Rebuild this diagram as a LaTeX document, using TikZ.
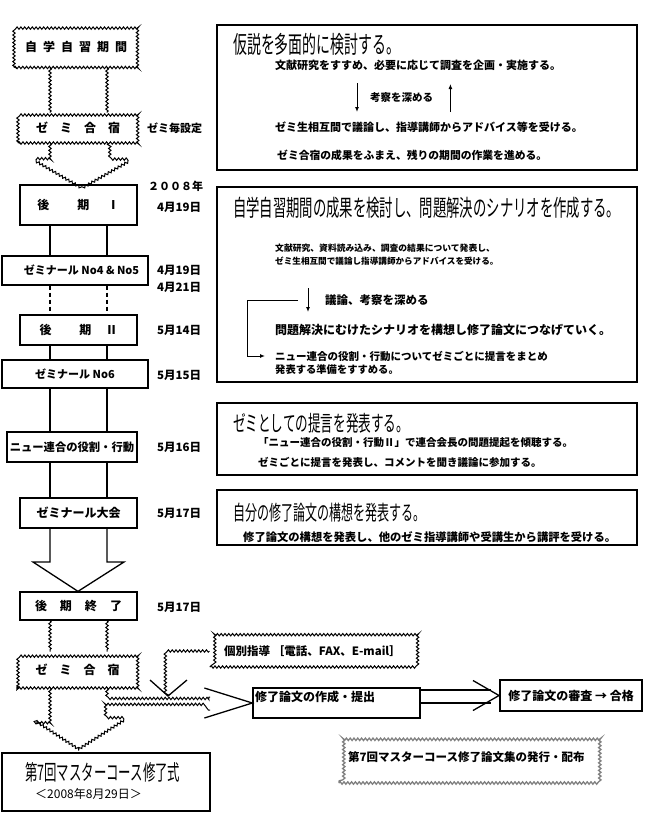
\documentclass[tikz,border=0pt]{standalone}
\usepackage{fontspec}
\setmainfont{Noto Sans CJK JP}
\newfontfamily\headfont{Noto Sans CJK JP}[FakeStretch=0.58]
\usetikzlibrary{positioning,arrows.meta,decorations.pathmorphing}
\newcommand{\kgap}[1][6pt]{\hspace{#1}}

\begin{document}
\begin{tikzpicture}[
    x=1pt, y=-1pt,
    stage/.style={draw, line width=1.3pt, inner sep=0pt, minimum width=117pt, minimum height=30pt,
        font={\bfseries\fontsize{12}{14}\selectfont}},
    wavy/.style={line width=1pt, decorate, decoration={snake, amplitude=1.2pt, segment length=3.8pt}},
    rail/.style={line width=1.3pt},
    panel/.style={draw, line width=1.5pt, minimum width=420pt, inner sep=0pt},
    headline/.style={inner sep=0pt, anchor=west, font={\headfont\fontsize{24}{26}\selectfont}},
    note/.style={inner sep=0pt, anchor=west, font={\bfseries\fontsize{11}{13}\selectfont}},
    date/.style={inner sep=0pt, anchor=west, font={\bfseries\fontsize{11.5}{13}\selectfont}},
    flow/.style={-{Latex[length=5pt,width=4pt]}, line width=1pt},
]
    \useasboundingbox (0,0) rectangle (650,820);

    % rails and arrow wings
    \coordinate (L) at (50,0);
    \coordinate (R) at (107,0);
    \coordinate (wA1) at (33,158);
    \coordinate (wA2) at (124,158);
    \coordinate (wB1) at (33,562);
    \coordinate (wB2) at (124,562);
    \coordinate (wC1) at (33,723);
    \coordinate (wC2) at (124,723);

    % left column
    \node[stage, wavy, minimum width=124pt, minimum height=41pt] (study) at (76,47) {自\kgap 学\kgap 自\kgap 習\kgap 期\kgap 間};
    \node[stage, wavy, minimum width=120pt] (camp) at (78,128) {ゼ\kgap[12pt]ミ\kgap[12pt]合\kgap[12pt]宿};
    \node[stage, minimum height=40pt] (termA) at (78.5,205) {後\kgap[28pt]期\kgap[18pt]Ⅰ};
    \node[stage, minimum width=146pt, minimum height=29pt, font={\bfseries\fontsize{11}{13}\selectfont}] (semA) at (75,270.5) {\kgap[13pt]ゼミナール No4 \& No5};
    \node[stage] (termB) at (78.5,330) {後\kgap[28pt]期\kgap[14pt]Ⅱ};
    \node[stage, minimum width=146pt, minimum height=28pt, font={\bfseries\fontsize{11}{13}\selectfont}] (semB) at (75,374) {ゼミナール No6\kgap[26pt]};
    \node[stage, minimum width=130pt, font={\bfseries\fontsize{11.3}{13}\selectfont}] (union) at (72,447) {ニュー連合の役割・行動};
    \node[stage] (conf) at (78.5,513) {ゼミナール大会};
    \node[stage, minimum height=28pt] (kend) at (78.5,606) {後\kgap[13pt]期\kgap[13pt]終\kgap[13pt]了};
    \node[stage, wavy, minimum width=119pt, minimum height=36pt] (camp2) at (77.5,670) {ゼ\kgap[12pt]ミ\kgap[12pt]合\kgap[12pt]宿};
    \node[stage, minimum width=208pt, minimum height=58pt] (grad) at (106,782) {};
    \node[headline, font={\headfont\fontsize{21.4}{23}\selectfont}] (gradT) at (25,772) {第7回マスターコース修了式};
    \node[note, font={\fontsize{12}{14}\selectfont}] (gradD) at (35,794) {＜2008年8月29日＞};

    \foreach \s in {L,R} {
        \draw[wavy] (study.south -| \s) -- (camp.north -| \s);
        \draw[rail] (termA.south -| \s) -- (semA.north -| \s);
        \draw[rail, dash pattern=on 4pt off 3pt] (semA.south -| \s) -- (termB.north -| \s);
        \draw[rail] (termB.south -| \s) -- (semB.north -| \s);
        \draw[rail] (semB.south -| \s) -- (union.north -| \s);
        \draw[rail] (union.south -| \s) -- (conf.north -| \s);
        \draw[wavy] (kend.south -| \s) -- (camp2.north -| \s);
    }
    \draw[wavy] (camp.south -| L) -- (L |- wA1) -- (wA1) -- (termA.north -| 78,0) -- (wA2) -- (R |- wA2) -- (camp.south -| R);
    \draw[rail] (conf.south -| L) -- (L |- wB1) -- (wB1) -- (kend.north -| 78,0) -- (wB2) -- (R |- wB2) -- (conf.south -| R);

    % dates
    \node[date, font={\bfseries\fontsize{11}{13}\selectfont}] (campNote) at (147,128) {ゼミ毎設定};
    \node[date, font={\bfseries\fontsize{11}{13}\selectfont}] (year) at (148,186) {２００８年};
    \node[date] (dA) at (157,207) {4月19日};
    \node[date] (dB) at (157,270) {4月19日};
    \node[date] (dC) at (157,287) {4月21日};
    \node[date] (dD) at (157,330) {5月14日};
    \node[date] (dE) at (157,375) {5月15日};
    \node[date] (dF) at (157,447) {5月16日};
    \node[date] (dG) at (157,513) {5月17日};
    \node[date] (dH) at (157,607) {5月17日};

    % hypothesis panel
    \node[panel, minimum height=145pt] (hypo) at (427,97.5) {};
    \node[headline] (hypoT) at (233,44) {仮説を多面的に検討する。};
    \node[note] (hypoA) at (275,65) {文献研究をすすめ、必要に応じて調査を企画・実施する。};
    \node[note, font={\bfseries\fontsize{10.5}{12}\selectfont}] (deepen) at (370,98) {考察を深める};
    \node[note] (hypoB) at (275,127) {ゼミ生相互間で議論し、指導講師からアドバイス等を受ける。};
    \node[note, font={\bfseries\fontsize{10.8}{12}\selectfont}] (hypoC) at (277,155) {ゼミ合宿の成果をふまえ、残りの期間の作業を進める。};
    \draw[flow] ([xshift=-13pt,yshift=15pt]deepen.west) -- ([xshift=-13pt,yshift=-14pt]deepen.west);
    \draw[flow] ([xshift=17pt,yshift=-14pt]deepen.east) -- ([xshift=17pt,yshift=14pt]deepen.east);

    % scenario panel
    \node[panel, minimum height=195pt] (scen) at (427,284.5) {};
    \node[headline, font={\headfont\fontsize{23}{25}\selectfont}] (scenT) at (233,208) {自学自習期間の成果を検討し、問題解決のシナリオを作成する。};
    \node[note, font={\bfseries\fontsize{8.8}{10}\selectfont}] (scenA) at (275,248) {文献研究、資料読み込み、調査の結果について発表し、};
    \node[note, font={\bfseries\fontsize{8.6}{10}\selectfont}] (scenB) at (275,261) {ゼミ生相互間で議論し指導講師からアドバイスを受ける。};
    \node[note, font={\bfseries\fontsize{11.5}{13}\selectfont}] (debate) at (325,300) {議論、考察を深める};
    \node[note, font={\bfseries\fontsize{12}{14}\selectfont}] (scenC) at (275,330) {問題解決にむけたシナリオを構想し修了論文につなげていく。};
    \node[note, font={\bfseries\fontsize{10.5}{12}\selectfont}] (scenD) at (275,356) {ニュー連合の役割・行動についてゼミごとに提言をまとめ};
    \node[note, font={\bfseries\fontsize{10.3}{12}\selectfont}] (scenE) at (275,370) {発表する準備をすすめる。};
    \draw[flow] ([xshift=-17pt,yshift=12pt]debate.west) -- ([xshift=-17pt,yshift=-12pt]debate.west);
    \draw[flow] ([xshift=-27pt]debate.west) -| ([xshift=-28pt]scenD.west) -- ([xshift=-10pt]scenD.west);

    % proposal panel
    \node[panel, minimum height=72pt] (prop) at (427,439) {};
    \node[headline, font={\headfont\fontsize{21.7}{24}\selectfont}] (propT) at (233,423) {ゼミとしての提言を発表する。};
    \node[note, font={\bfseries\fontsize{10.5}{12}\selectfont}] (propA) at (258,443) {「ニュー連合の役割・行動Ⅱ」で連合会長の問題提起を傾聴する。};
    \node[note, font={\bfseries\fontsize{10.5}{12}\selectfont}] (propB) at (258,462) {ゼミごとに提言を発表し、コメントを聞き議論に参加する。};

    % plan panel
    \node[panel, minimum height=55pt] (plan) at (427,517.5) {};
    \node[headline, font={\headfont\fontsize{20.7}{23}\selectfont}] (planT) at (233,513) {自分の修了論文の構想を発表する。};
    \node[note, font={\bfseries\fontsize{11.3}{13}\selectfont}] (planA) at (243,537) {修了論文の構想を発表し、他のゼミ指導講師や受講生から講評を受ける。};

    % thesis steps
    \node[stage, wavy, minimum width=205pt, minimum height=32pt, font={\bfseries\fontsize{11.5}{13}\selectfont}] (guide) at (312.5,651) {個別指導 ［電話、FAX、E-mail］};
    \node[stage, minimum width=167pt, minimum height=30pt] (write) at (336.5,703) {};
    \node[note, font={\bfseries\fontsize{12}{14}\selectfont}] (writeT) at (255,697) {修了論文の作成・提出};
    \node[stage, line width=2pt, minimum width=142pt, minimum height=31pt] (exam) at (571,695.5) {修了論文の審査 → 合格};
    \node[stage, wavy, draw=gray, line width=1.3pt, minimum width=258pt, minimum height=45pt] (pub) at (468,760.5) {};
    \node[note, font={\bfseries\fontsize{11.5}{13}\selectfont}] (pubT) at (348,757) {第7回マスターコース修了論文集の発行・配布};

    % branch out of the second camp
    \coordinate (bandTop) at (210,697);
    \coordinate (bandBot) at (210,710);
    \coordinate (drop) at (168,696);
    \draw[wavy] (camp2.south -| R) -- (R |- bandTop) -- (bandTop);
    \draw[wavy] (camp2.south -| L) -- (L |- wC1) -- (wC1) -- (grad.north -| 78,0) -- (wC2) -- (R |- wC2) -- (R |- bandBot) -- (bandBot);
    \draw[rail] ([shift={(-48pt,15pt)}]write.west) -- (write.west) -- ([shift={(-48pt,-15pt)}]write.west);
    \draw[wavy] (guide.west) -| (drop);
    \draw[rail] ([shift={(-18pt,16pt)}]drop) -- (drop) -- ([shift={(19pt,16pt)}]drop);
    \draw[rail] ([yshift=13pt]write.east) -- ++(70pt,0);
    \draw[rail] (write.east) -- ++(70pt,0);
    \draw[rail] ([shift={(-26pt,15pt)}]exam.west) -- (exam.west) -- ([shift={(-26pt,-15pt)}]exam.west);

\end{tikzpicture}
\end{document}
